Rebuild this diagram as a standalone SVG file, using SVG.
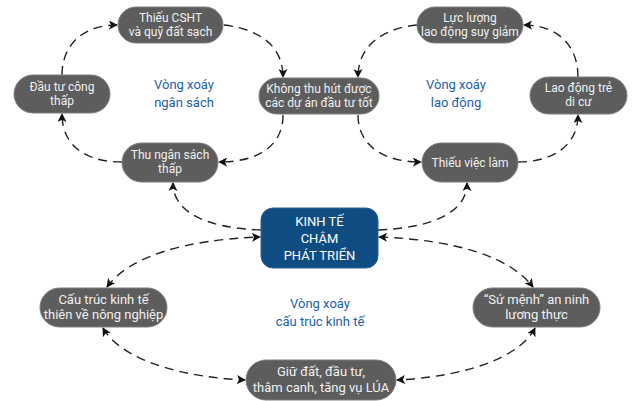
<svg xmlns="http://www.w3.org/2000/svg" width="640" height="401" viewBox="0 0 640 401">
<style>
.node rect{fill:#5d5d5d;stroke:#7d7d7d;stroke-width:1}
.node text{fill:#f0f0f0;font-family:Roboto,"Liberation Sans",sans-serif;font-size:12px;text-anchor:middle}
.node.big text{font-size:13px}
#n_center rect{fill:#0e4c82;stroke:#2a6296}
#n_center text{fill:#ffffff;font-size:13px}
.lbl{fill:#1c5fa6;font-family:Roboto,"Liberation Sans",sans-serif;font-size:13px;text-anchor:middle}
.c path{fill:none;stroke:#222;stroke-width:1.4;stroke-dasharray:9 6}
</style>
<defs>
<marker id="ah" viewBox="0 0 10 10" refX="9" refY="5" markerWidth="9" markerHeight="9" markerUnits="userSpaceOnUse" orient="auto-start-reverse">
<path d="M0,0 L10,5 L0,10 L2.5,5 z" fill="#111"/>
</marker>
</defs>
<rect width="640" height="401" fill="#ffffff"/>

<g id="connectors" class="c">
<path d="M224,25 C258,29 283,45 283,77" marker-end="url(#ah)"/>
<path d="M283,115 C283,146 258,162 219,162" marker-end="url(#ah)"/>
<path d="M122,162 C86,162 62,146 62,114" marker-end="url(#ah)"/>
<path d="M62,75 C62,44 84,25 117,25" marker-end="url(#ah)"/>
<path d="M417,25 C384,28 358,45 358,77" marker-end="url(#ah)"/>
<path d="M358,115 C358,146 384,162 421,162" marker-end="url(#ah)"/>
<path d="M518,162 C552,162 578,146 578,115" marker-end="url(#ah)"/>
<path d="M578,77 C578,44 556,25 524,25" marker-end="url(#ah)"/>
<path d="M261,230 C206,228 173,212 173,183" marker-end="url(#ah)"/>
<path d="M378,230 C433,228 467,212 467,183" marker-end="url(#ah)"/>
<path d="M107,287 C128,258 180,240 260,237" marker-start="url(#ah)" marker-end="url(#ah)"/>
<path d="M379,237 C459,240 511,258 533,287" marker-start="url(#ah)" marker-end="url(#ah)"/>
<path d="M103,328 C116,352 162,376 245,380" marker-start="url(#ah)" marker-end="url(#ah)"/>
<path d="M535,328 C522,354 474,376 397,380" marker-start="url(#ah)" marker-end="url(#ah)"/>
</g>

<g id="n_cshat" class="node"><rect x="118" y="7" width="105" height="36" rx="18"/><text x="170.5" y="22">Thiếu CSHT</text><text x="170.5" y="36">và quỹ đất sạch</text></g>
<g id="n_dautu" class="node"><rect x="14" y="75" width="96" height="38" rx="19"/><text x="62" y="91">Đầu tư công</text><text x="62" y="105">thấp</text></g>
<g id="n_thungan" class="node"><rect x="122" y="143" width="96" height="39" rx="19.5"/><text x="170" y="159">Thu ngân sách</text><text x="170" y="173">thấp</text></g>
<g id="n_khongthu" class="node"><rect x="259" y="78" width="120" height="36" rx="18"/><text x="319" y="93">Không thu hút được</text><text x="319" y="107">các dự án đầu tư tốt</text></g>
<g id="n_lucluong" class="node"><rect x="417" y="7" width="106" height="36" rx="18"/><text x="470" y="22">Lực lượng</text><text x="470" y="36">lao động suy giảm</text></g>
<g id="n_laodong" class="node"><rect x="530" y="77" width="97" height="37" rx="18.5"/><text x="578.5" y="92">Lao động trẻ</text><text x="578.5" y="106">di cư</text></g>
<g id="n_thieuviec" class="node"><rect x="422" y="143" width="96" height="39" rx="19.5"/><text x="470" y="167">Thiếu việc làm</text></g>
<g id="n_center" class="node"><rect x="261" y="208" width="117" height="60" rx="12"/><text x="319.5" y="226">KINH TẾ</text><text x="319.5" y="243">CHẬM</text><text x="319.5" y="260">PHÁT TRIỂN</text></g>
<g id="n_cautruc" class="node big"><rect x="40" y="288" width="127" height="39" rx="19.5"/><text x="103.5" y="304">Cấu trúc kinh tế</text><text x="103.5" y="319">thiên về nông nghiệp</text></g>
<g id="n_giudat" class="node big"><rect x="246" y="360" width="150" height="40" rx="20"/><text x="321" y="376">Giữ đất, đầu tư,</text><text x="321" y="392">thâm canh, tăng vụ LÚA</text></g>
<g id="n_sumenh" class="node big"><rect x="473" y="288" width="127" height="39" rx="19.5"/><text x="536.5" y="304">“Sứ mệnh” an ninh</text><text x="536.5" y="319">lương thực</text></g>

<g id="labels">
<text class="lbl" x="184" y="89">Vòng xoáy</text><text class="lbl" x="184" y="107">ngân sách</text>
<text class="lbl" x="456" y="89">Vòng xoáy</text><text class="lbl" x="456" y="107">lao động</text>
<text class="lbl" x="320" y="308">Vòng xoáy</text><text class="lbl" x="320" y="326">cấu trúc kinh tế</text>
</g>
</svg>
